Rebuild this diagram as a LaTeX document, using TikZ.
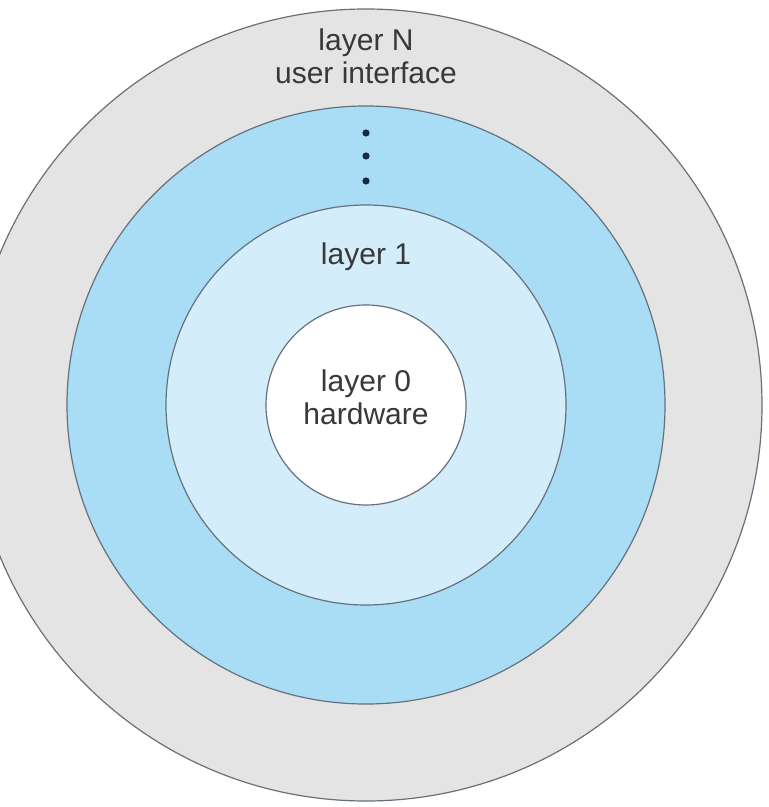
\documentclass[tikz,border=0pt]{standalone}
\usepackage{fontspec}
\setmainfont{Liberation Sans}
\usetikzlibrary{positioning}
\definecolor{ringgray}{HTML}{E4E4E4}
\definecolor{ringblue}{HTML}{A9DDF6}
\definecolor{ringpale}{HTML}{D4EDFA}
\definecolor{rimline}{HTML}{66717C}
\definecolor{inktext}{HTML}{383838}
\definecolor{dotnavy}{HTML}{1A2A40}
\tikzset{
	ring/.style  = {shape=circle, draw=rimline, line width=0.6pt,
		inner sep=0pt, anchor=center},
	outerring/.style = {ring, fill=ringgray, minimum size=396pt},
	bluering/.style  = {ring, fill=ringblue, minimum size=299pt},
	palering/.style  = {ring, fill=ringpale, minimum size=200pt},
	corering/.style  = {ring, fill=white, minimum size=100pt},
	layertext/.style = {font=\fontsize{15pt}{16.5pt}\selectfont,
		text=inktext, align=center, inner sep=0pt},
	vdot/.style  = {circle, fill=dotnavy, inner sep=0pt, minimum size=3.6pt}
}

\begin{document}
\begin{tikzpicture}[x=0.5pt,y=-0.5pt]
	\fill[white] (0,0) rectangle (768,807);
	\clip (0,0) rectangle (768,807);
	% rings, from the outside in
	\node[outerring] (layerN) at (366,405) {};
	\node[bluering]  (middle) at (366,405) {};
	\node[palering]  (layer1) at (366,405) {};
	\node[corering]  (layer0) at (366,405) {};
	% labels
	\node[layertext] (textN) at (366,56) {layer N\\user interface};
	\node[layertext] (text1) at (366,257) {layer 1};
	\node[layertext] (text0) at (366,397) {layer 0\\hardware};
	% the dots between layer N and layer 1
	\foreach \y/\n in {133/1,156/2,181/3}
		\node[vdot] (dot\n) at (366,\y) {};
\end{tikzpicture}
\end{document}
